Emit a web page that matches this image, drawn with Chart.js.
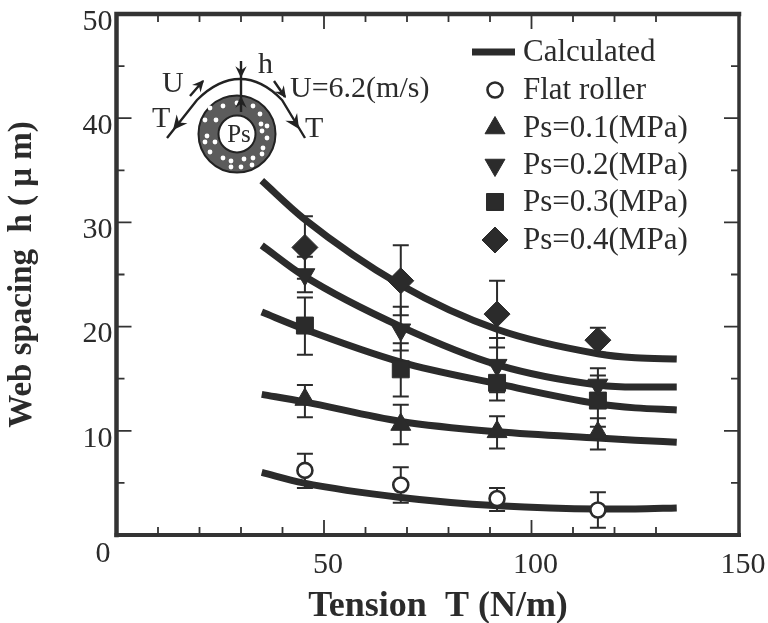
<!DOCTYPE html>
<html><head><meta charset="utf-8">
<style>html,body{margin:0;padding:0;background:#fff}#w{width:768px;height:623px}</style>
<script src="https://cdn.jsdelivr.net/npm/chart.js@4"></script>
</head><body><div id="w"><canvas id="c"></canvas></div>
<script>
const curveT=[35,45,68.5,92,116,125,135];
const calc0=[6,5,3.6,2.8,2.5,2.5,2.6];
const calc1=[13.5,12.8,10.9,9.9,9.3,9.1,8.9];
const calc2=[27.8,24.9,20,16.3,14.4,14.2,14.2];
const calc3=[21.4,19.8,16.6,14.5,12.6,12.2,12];
const calc4=[34,30.4,24,19.7,17.4,17,16.9];
const measT=[45.4,68.5,91.7,116];
const flat=[6.2,4.8,3.5,2.4], flatHi=[7.8,6.5,4.5,4.1], flatLo=[4.5,3.1,2.3,0.7];
const p1=[13,10.6,9.9,9.8], p1Hi=[14.4,12.5,11.4,11.2], p1Lo=[11.3,8.7,8.3,8.2];
const p2=[25,19.7,16.3,14.4], p2Hi=[26.7,21.9,18.9,16], p2Lo=[23.3,17.7,13.7,12.8];
const p3=[20.1,15.9,14.6,12.9], p3Hi=[22.8,18.4,16.3,15.3], p3Lo=[17.3,13.3,12.9,10.4];
const p4=[27.6,24.4,21.2,18.7], p4Hi=[30.6,27.8,24.4,19.9], p4Lo=[24.6,21.1,18,17.5];
const xMinor=[10,20,30,40,60,70,80,90,110,120,130], xMajor=[50,100];
const yMinor=[5,15,25,35,45], yMajor=[10,20,30,40];
const legendLabels=['Calculated','Flat roller','Ps=0.1(MPa)','Ps=0.2(MPa)','Ps=0.3(MPa)','Ps=0.4(MPa)'];
const xTitle='Tension  T (N/m)', yTitle='Web spacing  h ( μ m)';
const INK='#2b2b2b', SERIF='"Liberation Serif","Times New Roman",serif';
const pts=(xs,ys)=>xs.map((x,i)=>({x,y:ys[i]}));
const lineDs=(ys)=>({type:'line',data:pts(curveT,ys),borderColor:INK,borderWidth:7,pointRadius:0,cubicInterpolationMode:'monotone',fill:false,borderCapStyle:'butt',order:2});
const markDs=(label,ys,style,r,rot,hi,lo)=>({type:'scatter',label,data:pts(measT,ys),pointStyle:style,pointRadius:r,pointRotation:rot,
  backgroundColor:style==='circle'?'#fff':INK,borderColor:INK,borderWidth:style==='circle'?2.6:1,showLine:false,order:1,errHi:hi,errLo:lo});
const styles=[['circle',7.5,0],['triangle',11.5,0],['triangle',11.5,180],['rect',12,0],['rectRot',13,0]];

const decor={id:'decor',
 beforeDatasetsDraw(ch){
  const c=ch.ctx,x=ch.scales.x,y=ch.scales.y;
  c.save();c.strokeStyle=INK;c.lineWidth=2;
  ch.data.datasets.forEach(d=>{ if(!d.errHi) return;
    d.data.forEach((p,i)=>{const px=x.getPixelForValue(p.x),a=y.getPixelForValue(d.errHi[i]),b=y.getPixelForValue(d.errLo[i]);
      c.beginPath();c.moveTo(px,a);c.lineTo(px,b);c.moveTo(px-8,a);c.lineTo(px+8,a);c.moveTo(px-8,b);c.lineTo(px+8,b);c.stroke();});
  });
  c.restore();
  const {left:L,right:R,top:T,bottom:B}=ch.chartArea;
  c.save();c.strokeStyle='#333';c.lineCap='square';
  c.lineWidth=4.5;c.beginPath();c.moveTo(L,B);c.lineTo(L,T);c.lineTo(R,T);c.stroke();
  c.lineWidth=4;c.beginPath();c.moveTo(L,B);c.lineTo(R,B);c.stroke();
  c.lineWidth=3.5;c.beginPath();c.moveTo(R,T);c.lineTo(R,B);c.stroke();
  c.lineCap='butt';c.lineWidth=1.8;c.beginPath();
  const tx=(v,len)=>{const p=x.getPixelForValue(v);c.moveTo(p,B);c.lineTo(p,B-len);c.moveTo(p,T);c.lineTo(p,T+len);};
  const ty=(v,len)=>{const p=y.getPixelForValue(v);c.moveTo(L,p);c.lineTo(L+len,p);c.moveTo(R,p);c.lineTo(R-len,p);};
  xMinor.forEach(v=>tx(v,8));xMajor.forEach(v=>tx(v,15));
  yMinor.forEach(v=>ty(v,8));yMajor.forEach(v=>ty(v,15));
  c.stroke();c.restore();
 },
 afterDraw(ch){
  const c=ch.ctx;
  c.save();c.fillStyle=INK;c.textBaseline='alphabetic';
  c.font='30px '+SERIF;c.textAlign='center';c.fillText('0',103,562);
  c.font='bold 36px '+SERIF;c.fillText(xTitle,438,616);
  const rows=[52,90,128,165,202,240];
  c.font='31px '+SERIF;c.textAlign='left';
  legendLabels.forEach((t,i)=>c.fillText(t,523,rows[i]+9));
  c.strokeStyle=INK;c.lineWidth=7;c.beginPath();c.moveTo(472,52);c.lineTo(515,52);c.stroke();
  styles.forEach((s,i)=>{
    const bw=s[0]==='circle'?2.6:1;
    c.fillStyle=s[0]==='circle'?'#fff':INK;c.strokeStyle=INK;c.lineWidth=bw;
    Chart.helpers.drawPoint(c,{pointStyle:s[0],radius:s[1],rotation:s[2],borderWidth:bw},495,rows[i+1]);
  });
  const cx=237,cy=134;
  c.fillStyle='#5c5c5c';c.strokeStyle='#222';c.lineWidth=2;
  c.beginPath();c.arc(cx,cy,38.5,0,Math.PI*2);c.fill();c.stroke();
  c.fillStyle='#fff';
  const dots=[[-27,-26],[-14,-28],[0,-31],[16,-28],[23,-20],[-32,-14],[-21,-14],[24,-10],[30,-8],[-30,2],[25,-3],[30,4],[-32,8],[-22,8],[26,14],[-27,18],[-14,24],[-6,27],[7,25],[16,24],[25,20],[-6,33],[4,33],[15,31]];
  dots.forEach(d=>{c.beginPath();c.arc(cx+d[0],cy+d[1],2.4,0,Math.PI*2);c.fill();});
  c.beginPath();c.arc(cx,cy,18.5,0,Math.PI*2);c.fill();c.stroke();
  c.fillStyle=INK;c.font='25px '+SERIF;c.textAlign='center';c.fillText('Ps',cx+2,cy+8);
  c.lineWidth=2.4;c.strokeStyle='#222';
  c.beginPath();c.moveTo(167,138);c.lineTo(197,100);c.quadraticCurveTo(218,79,240,79);c.quadraticCurveTo(262,79,282,100);c.lineTo(305,138);c.stroke();
  c.beginPath();c.moveTo(241,61);c.lineTo(241,79);c.moveTo(241,112);c.lineTo(241,80);c.stroke();
  c.fillStyle='#222';
  const head=(x,y,a,s=10)=>{c.beginPath();c.moveTo(x,y);c.lineTo(x-s*Math.cos(a-0.45),y-s*Math.sin(a-0.45));c.lineTo(x-s*.6*Math.cos(a),y-s*.6*Math.sin(a));c.lineTo(x-s*Math.cos(a+0.45),y-s*Math.sin(a+0.45));c.closePath();c.fill();};
  head(173,130,2.25,16);head(299,129,1.0,16);head(241,78,Math.PI/2,13);head(241,96,-Math.PI/2,13);
  c.beginPath();c.moveTo(190,96);c.lineTo(203,81);c.moveTo(274,81);c.lineTo(285,97);c.stroke();
  head(204,80,-0.85,13);head(286,98,0.95,13);
  c.fillStyle=INK;c.font='30px '+SERIF;c.textAlign='left';
  c.fillText('U',162,92);c.fillText('T',152,127);c.fillText('T',305,137);c.fillText('h',258,73);
  c.fillText('U=6.2(m/s)',290,97);
  c.restore();
 }};

new Chart(document.getElementById('c'),{
 type:'scatter',
 data:{datasets:[lineDs(calc0),lineDs(calc1),lineDs(calc2),lineDs(calc3),lineDs(calc4),
  markDs('Flat roller',flat,...styles[0],flatHi,flatLo),
  markDs('Ps=0.1(MPa)',p1,...styles[1],p1Hi,p1Lo),
  markDs('Ps=0.2(MPa)',p2,...styles[2],p2Hi,p2Lo),
  markDs('Ps=0.3(MPa)',p3,...styles[3],p3Hi,p3Lo),
  markDs('Ps=0.4(MPa)',p4,...styles[4],p4Hi,p4Lo)]},
 options:{responsive:true,maintainAspectRatio:false,animation:false,
  layout:{autoPadding:false,padding:{left:0,right:29,top:9.5,bottom:0}},
  plugins:{legend:{display:false},tooltip:{enabled:false}},
  scales:{
   x:{type:'linear',min:0,max:150,afterFit(s){s.height=88;},
     grid:{display:false},border:{display:false},
     afterBuildTicks(s){s.ticks=[50,100,150].map(value=>({value}));},
     ticks:{color:INK,font:{family:SERIF,size:30},padding:4,labelOffset:4,maxRotation:0,autoSkip:false}},
   y:{type:'linear',min:0,max:50,afterFit(s){s.width=116.5;},
     grid:{display:false},border:{display:false},
     afterBuildTicks(s){s.ticks=[10,20,30,40,50].map(value=>({value}));},
     title:{display:true,text:yTitle,color:INK,font:{family:SERIF,size:33,weight:'bold'},padding:{top:3,bottom:0}},
     ticks:{color:INK,font:{family:SERIF,size:30},padding:-4,labelOffset:8,autoSkip:false}}
  }},
 plugins:[decor]});
</script></body></html>
